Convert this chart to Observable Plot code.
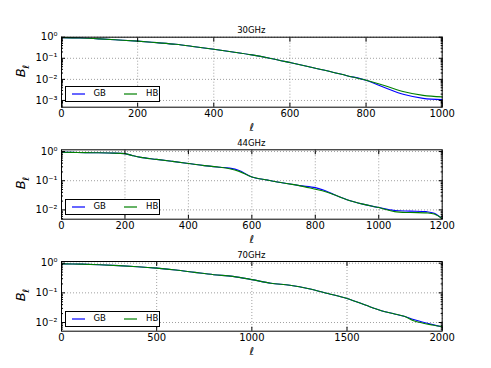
<!DOCTYPE html>
<html><head><meta charset="utf-8">
<script src="https://cdn.jsdelivr.net/npm/d3@7"></script>
<script src="https://cdn.jsdelivr.net/npm/@observablehq/plot@0.6"></script>
<style>
html,body{margin:0;padding:0;background:#fff}
#root{position:relative;width:491px;height:368px;overflow:hidden;font-family:"DejaVu Sans",sans-serif;color:#000}
.pw{position:absolute;left:0}
.title{position:absolute;font-size:8.5px;transform:translate(-50%,-50%);white-space:nowrap}
.xl{position:absolute;font-size:11px;font-style:italic;transform:translate(-50%,-50%)}
.yl{position:absolute;font-size:13px;font-style:italic;transform:translate(-50%,-50%) rotate(-90deg);white-space:nowrap}
.yl sub{font-size:9px;font-style:italic}
.legend{position:absolute;left:65px;width:93px;height:14px;border:1px solid #000;background:#fff;font-size:8.5px}
.legend svg{position:absolute;left:0;top:0}
.lt{position:absolute;top:1px}
</style></head>
<body><div id="root"></div>
<script>
// ---- data ----
const titles = ["30GHz", "44GHz", "70GHz"];
const seriesNames = ["GB", "HB"];
const seriesColors = ["#0000ff", "#008000"];

const ell30 = [0, 50, 100, 150, 200, 250, 300, 350, 400, 450, 500, 550, 600, 650, 700, 750, 800, 850, 900, 950, 1000];
const gb30  = [0.95, 0.91, 0.83, 0.74, 0.65, 0.55, 0.46, 0.355, 0.27, 0.20, 0.145, 0.098, 0.063, 0.040, 0.025, 0.015, 0.0091, 0.0040, 0.0019, 0.00126, 0.0011];
const hb30  = [0.95, 0.91, 0.83, 0.74, 0.65, 0.55, 0.46, 0.355, 0.27, 0.20, 0.145, 0.098, 0.063, 0.040, 0.025, 0.015, 0.0091, 0.0050, 0.0026, 0.00174, 0.00148];

const ell44 = [0, 50, 100, 150, 200, 225, 250, 300, 350, 400, 450, 500, 530, 560, 600, 650, 700, 750, 800, 830, 860, 900, 950, 1000, 1050, 1100, 1150, 1175, 1200];
const gb44  = [0.95, 0.93, 0.91, 0.89, 0.85, 0.72, 0.63, 0.54, 0.46, 0.39, 0.33, 0.29, 0.27, 0.224, 0.135, 0.105, 0.083, 0.068, 0.058, 0.046, 0.033, 0.0224, 0.0158, 0.012, 0.0095, 0.0091, 0.0087, 0.0076, 0.0050];
const hb44  = [0.95, 0.93, 0.91, 0.89, 0.85, 0.72, 0.63, 0.54, 0.46, 0.39, 0.33, 0.29, 0.257, 0.209, 0.135, 0.105, 0.083, 0.068, 0.051, 0.043, 0.033, 0.0224, 0.0158, 0.012, 0.0087, 0.0081, 0.0079, 0.0072, 0.0050];

const ell70 = [0, 100, 200, 300, 400, 500, 600, 700, 800, 900, 1000, 1100, 1200, 1300, 1400, 1500, 1600, 1650, 1700, 1750, 1800, 1850, 1900, 1950, 2000];
const gb70  = [0.95, 0.93, 0.89, 0.83, 0.76, 0.68, 0.59, 0.49, 0.41, 0.36, 0.28, 0.21, 0.18, 0.138, 0.095, 0.065, 0.038, 0.029, 0.0229, 0.0195, 0.0162, 0.0126, 0.0102, 0.0085, 0.0072];
const hb70  = [0.95, 0.93, 0.89, 0.83, 0.76, 0.68, 0.59, 0.49, 0.41, 0.36, 0.28, 0.21, 0.18, 0.138, 0.095, 0.065, 0.038, 0.029, 0.0229, 0.0195, 0.0162, 0.0115, 0.0095, 0.0082, 0.0072];

const xTicks30 = [0, 200, 400, 600, 800, 1000];
const xTicks44 = [0, 200, 400, 600, 800, 1000, 1200];
const xTicks70 = [0, 500, 1000, 1500, 2000];
const yTicks30 = [1, 0.1, 0.01, 0.001];
const yLabels30 = ["10\u2070", "10\u207B\u00B9", "10\u207B\u00B2", "10\u207B\u00B3"];
const yTicks44 = [1, 0.1, 0.01];
const yLabels44 = ["10\u2070", "10\u207B\u00B9", "10\u207B\u00B2"];
const yTicks70 = [1, 0.1, 0.01];
const yLabels70 = ["10\u2070", "10\u207B\u00B9", "10\u207B\u00B2"];

// ---- layout ----
const root = document.getElementById("root");
const W = 491, ML = 61, MR = 49.3;
const SVGNS = "http://www.w3.org/2000/svg";

function minorTicks(lo, hi) {
  const out = [];
  for (let e = -5; e <= 1; e++) for (let m = 2; m <= 9; m++) {
    const v = m * Math.pow(10, e);
    if (v >= lo && v <= hi) out.push(v);
  }
  return out;
}

function panel(cfg) {
  const rows = cfg.ell.map((l, i) => ({l, gb: cfg.gb[i], hb: cfg.hb[i]}));
  const fmt = new Map(cfg.yTicks.map((t, i) => [t, cfg.yLabels[i]]));
  const minor = minorTicks(cfg.yDomain[0], cfg.yDomain[1]);
  const grid = {stroke: "#000", strokeOpacity: 0.55, strokeDasharray: "1,2", strokeWidth: 0.7};
  const svg = Plot.plot({
    width: W, height: cfg.mt + cfg.ph + cfg.mb,
    marginLeft: ML, marginRight: MR, marginTop: cfg.mt, marginBottom: cfg.mb,
    style: {background: "transparent", fontFamily: "DejaVu Sans", fontSize: "10px", color: "#000", overflow: "visible"},
    x: {domain: cfg.xDomain},
    y: {type: "log", domain: cfg.yDomain},
    marks: [
      Plot.gridX(cfg.xTicks, grid),
      Plot.gridY(cfg.yTicks, grid),
      Plot.line(rows, {x: "l", y: "gb", stroke: seriesColors[0], strokeWidth: 1.1, curve: "catmull-rom"}),
      Plot.line(rows, {x: "l", y: "hb", stroke: seriesColors[1], strokeWidth: 1.1, curve: "catmull-rom"}),
      Plot.axisX(cfg.xTicks, {anchor: "bottom", tickSize: 0, tickPadding: 3, label: null, tickFormat: d => String(d)}),
      Plot.axisX(cfg.xTicks, {anchor: "bottom", tickSize: -4, fill: "none", label: null}),
      Plot.axisX(cfg.xTicks, {anchor: "top", tickSize: -4, fill: "none", label: null}),
      Plot.axisY(cfg.yTicks, {anchor: "left", tickSize: 0, tickPadding: 4, label: null, tickFormat: d => fmt.get(d)}),
      Plot.axisY(cfg.yTicks, {anchor: "left", tickSize: -4, fill: "none", label: null}),
      Plot.axisY(cfg.yTicks, {anchor: "right", tickSize: -4, fill: "none", label: null}),
      Plot.axisY(minor, {anchor: "left", tickSize: -2, fill: "none", label: null}),
      Plot.axisY(minor, {anchor: "right", tickSize: -2, fill: "none", label: null}),
      Plot.frame({stroke: "#000", strokeWidth: 1})
    ]
  });
  const wrap = document.createElement("div");
  wrap.className = "pw";
  wrap.style.top = cfg.top + "px";
  wrap.appendChild(svg);
  root.appendChild(wrap);

  const plotTop = cfg.top + cfg.mt, plotBottom = plotTop + cfg.ph;
  const cx = ML + (W - ML - MR) / 2;

  const t = document.createElement("div");
  t.className = "title"; t.textContent = cfg.title;
  t.style.left = cx + "px"; t.style.top = (plotTop - 6.5) + "px";
  root.appendChild(t);

  const xl = document.createElement("div");
  xl.className = "xl"; xl.textContent = "\u2113";
  xl.style.left = (cx + 0.5) + "px"; xl.style.top = (plotBottom + 20.5) + "px";
  root.appendChild(xl);

  const yl = document.createElement("div");
  yl.className = "yl"; yl.innerHTML = "B<sub>\u2113</sub>";
  yl.style.left = "22px"; yl.style.top = (plotTop + cfg.ph / 2 - 1) + "px";
  root.appendChild(yl);

  const lg = document.createElement("div");
  lg.className = "legend";
  lg.style.top = Math.round(plotBottom - cfg.lgGap - 16) + "px";
  const sv = document.createElementNS(SVGNS, "svg");
  sv.setAttribute("width", "93"); sv.setAttribute("height", "14");
  const swLeft = [6, 58], txLeft = [27.5, 80];
  seriesNames.forEach((n, i) => {
    const ln = document.createElementNS(SVGNS, "line");
    ln.setAttribute("x1", swLeft[i]); ln.setAttribute("x2", swLeft[i] + 13);
    ln.setAttribute("y1", 7); ln.setAttribute("y2", 7);
    ln.setAttribute("stroke", seriesColors[i]); ln.setAttribute("stroke-width", 1.2);
    sv.appendChild(ln);
    const tx = document.createElement("span");
    tx.className = "lt"; tx.style.left = txLeft[i] + "px"; tx.textContent = n;
    lg.appendChild(tx);
  });
  lg.appendChild(sv);
  root.appendChild(lg);
}

panel({title: titles[0], top: 0, mt: 36.7, ph: 70, mb: 30, lgGap: 5,
  ell: ell30, gb: gb30, hb: hb30, xDomain: [0, 1000], yDomain: [0.00048, 1],
  xTicks: xTicks30, yTicks: yTicks30, yLabels: yLabels30});
panel({title: titles[1], top: 120, mt: 29.3, ph: 69.4, mb: 30, lgGap: 4,
  ell: ell44, gb: gb44, hb: hb44, xDomain: [0, 1200], yDomain: [0.0048, 1.148],
  xTicks: xTicks44, yTicks: yTicks44, yLabels: yLabels44});
panel({title: titles[2], top: 240, mt: 21, ph: 69.7, mb: 30, lgGap: 4,
  ell: ell70, gb: gb70, hb: hb70, xDomain: [0, 2000], yDomain: [0.0051, 1.14],
  xTicks: xTicks70, yTicks: yTicks70, yLabels: yLabels70});
</script>
</body></html>
